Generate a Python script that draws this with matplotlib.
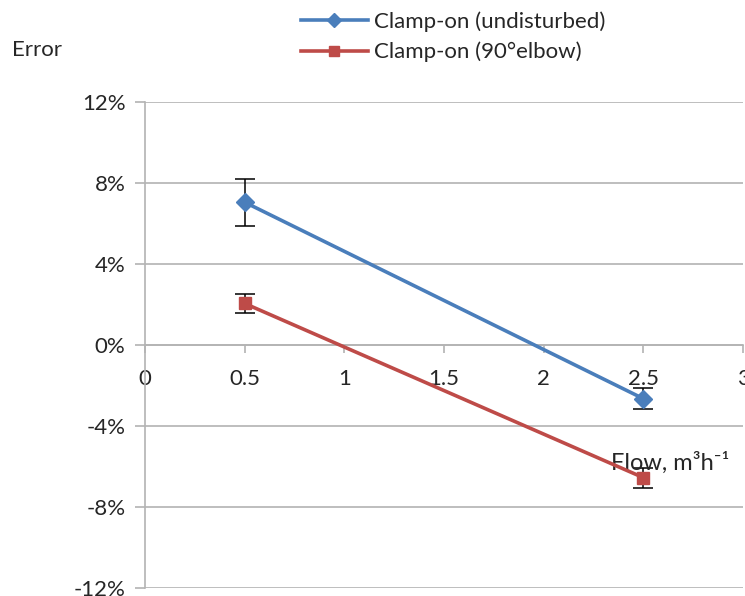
import matplotlib
matplotlib.use("Agg")
import matplotlib.pyplot as plt
from matplotlib.lines import Line2D
from matplotlib.ticker import FuncFormatter, MultipleLocator

plt.rcParams['font.family'] = ['Lato', 'DejaVu Sans']
plt.rcParams['font.size'] = 16

# data (error in %)
flow = [0.5, 2.5]
err_undisturbed = [7.05, -2.65]
sd_undisturbed = [1.16, 0.52]
err_elbow = [2.05, -6.55]
sd_elbow = [0.46, 0.5]
labels = ["Clamp-on (undisturbed)", "Clamp-on (90°elbow)"]

blue = "#4a7ebb"
red = "#be4b48"
grid_c = "#b3b3b3"
txt_c = "#262626"

fig = plt.figure(figsize=(7.45, 5.96), dpi=100)
ax = fig.add_axes([145/745, 1 - 588/596, (743 - 145)/745, (588 - 102)/596])

ax.errorbar(flow, err_undisturbed, yerr=sd_undisturbed, color=blue, lw=2.6,
            marker="D", ms=9, ecolor="black", elinewidth=1.1, capsize=7,
            capthick=1.1, zorder=3)
ax.errorbar(flow, err_elbow, yerr=sd_elbow, color=red, lw=2.6,
            marker="s", ms=9, ecolor="black", elinewidth=1.1, capsize=7,
            capthick=1.1, zorder=3)

ax.set_xlim(0, 3)
ax.set_ylim(-12, 12)
ax.xaxis.set_major_locator(MultipleLocator(0.5))
ax.yaxis.set_major_locator(MultipleLocator(4))
ax.xaxis.set_major_formatter(FuncFormatter(lambda v, p: f"{v:g}"))
ax.yaxis.set_major_formatter(FuncFormatter(lambda v, p: f"{v:.0f}%"))

ax.grid(axis="y", color=grid_c, lw=1.2)
ax.set_axisbelow(True)
for s in ["top", "right"]:
    ax.spines[s].set_visible(False)
ax.spines["bottom"].set_position(("data", 0))
for s in ["left", "bottom"]:
    ax.spines[s].set_color(grid_c)
    ax.spines[s].set_linewidth(1.2)
ax.tick_params(axis="x", direction="out", length=6, color=grid_c, width=1.2,
               pad=11, labelcolor=txt_c)
ax.tick_params(axis="y", direction="out", length=7, color=grid_c, width=1.2,
               pad=7, labelcolor=txt_c)

ax.text(2.34, -5.82, "Flow, m³h⁻¹", ha="left", va="center", fontsize=17,
        color=txt_c)
fig.text(12/745, 1 - 50/596, "Error", ha="left", va="center", color=txt_c)

handles = [Line2D([], [], color=blue, lw=2.6, marker="D", ms=7),
           Line2D([], [], color=red, lw=2.6, marker="s", ms=7)]
leg = fig.legend(handles=handles, labels=labels, loc="upper left",
                 bbox_to_anchor=(290/745, 1.0), frameon=False, handlelength=3.0,
                 handletextpad=0.3, labelspacing=0.45, borderaxespad=0.1)
for t in leg.get_texts():
    t.set_color(txt_c)

fig.savefig("out.png", dpi=100)
